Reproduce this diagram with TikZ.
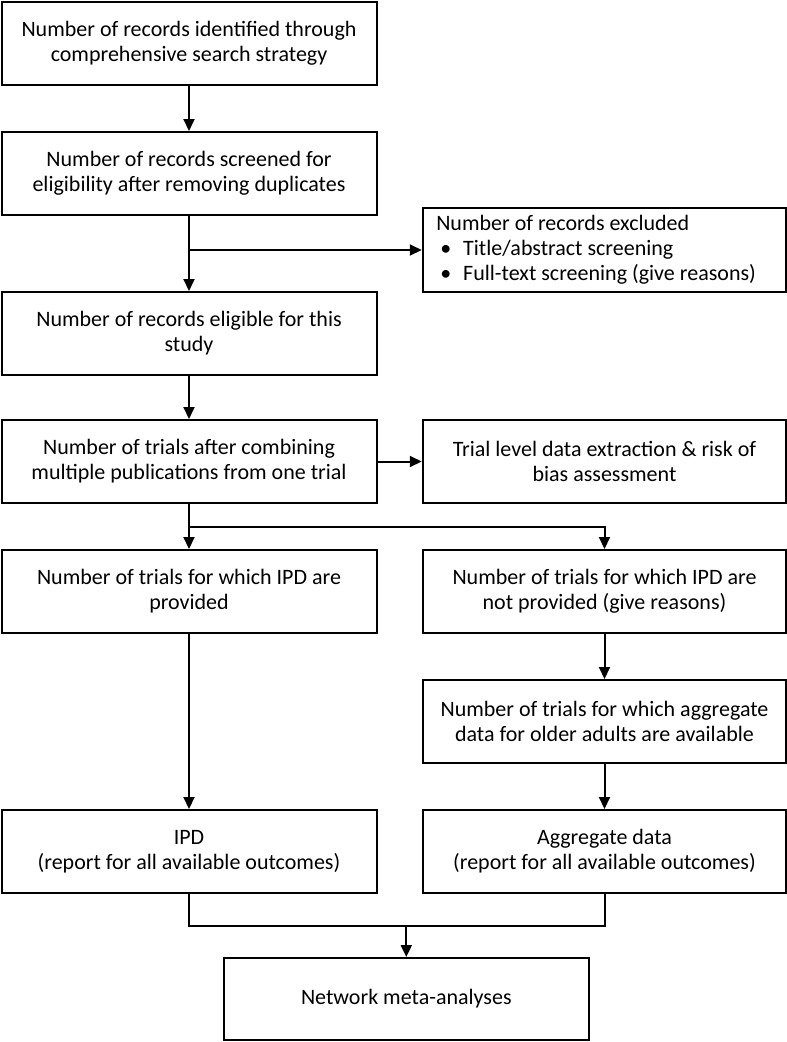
\documentclass[tikz,border=0pt]{standalone}
\usepackage{fontspec}
\setmainfont{Carlito}
\usetikzlibrary{arrows.meta}

\begin{document}
\begin{tikzpicture}[x=1pt, y=-1pt, font=\fontsize{22}{25}\selectfont,
    box/.style = {draw, line width=2pt, align=center, inner sep=0pt, minimum height=83pt},
    lbox/.style = {box, minimum width=375pt},
    rbox/.style = {box, minimum width=363.5pt},
    flow/.style = {line width=2pt, -{Triangle[length=12pt,width=11pt]}},
    link/.style = {line width=2pt}]

    \useasboundingbox (0,0) rectangle (787,1042);

    % left column
    \node[lbox] (ident) at (189,43) {Number of records identified through\\comprehensive search strategy};
    \node[lbox] (screen) at (189,173.5) {Number of records screened for\\eligibility after removing duplicates};
    \node[lbox] (elig) at (189,333.5) {Number of records eligible for this\\study};
    \node[lbox] (trials) at (189,461.5) {Number of trials after combining\\multiple publications from one trial};
    \node[lbox] (ipdyes) at (189,591.5) {Number of trials for which IPD are\\provided};
    \node[lbox] (ipd) at (189,851.5) {IPD\\(report for all available outcomes)};

    % right column
    \node[rbox, align=left, minimum height=84pt] (excl) at (604.5,250)
        {\makebox[336.5pt][l]{Number of records excluded}\\
         \makebox[336.5pt][l]{\hspace*{4pt}\makebox[23pt][l]{\textbullet}Title/abstract screening}\\
         \makebox[336.5pt][l]{\hspace*{4pt}\makebox[23pt][l]{\textbullet}Full-text screening (give reasons)}};
    \node[rbox] (tlevel) at (604.5,461.5) {Trial level data extraction \& risk of\\bias assessment};
    \node[rbox] (ipdno) at (604.5,591.5) {Number of trials for which IPD are\\not provided (give reasons)};
    \node[rbox] (aggav) at (604.5,721.5) {Number of trials for which aggregate\\data for older adults are available};
    \node[rbox] (agg) at (604.5,851.5) {Aggregate data\\(report for all available outcomes)};

    \node[box, minimum width=365pt, minimum height=82pt] (nma) at (406.3,999) {Network meta-analyses};

    % connectors
    \coordinate (split) at (189,527);
    \coordinate (merge) at (406.3,926);

    \draw[flow] (ident) -- (screen);
    \draw[flow] (screen) -- (elig);
    \draw[flow] (screen.south |- excl.west) -- (excl.west);
    \draw[flow] (elig) -- (trials);
    \draw[flow] (trials) -- (tlevel);
    \draw[flow] (trials) -- (ipdyes);
    \draw[flow] (split) -| (ipdno);
    \draw[flow] (ipdno) -- (aggav);
    \draw[flow] (aggav) -- (agg);
    \draw[flow] (ipdyes) -- (ipd);
    \draw[link] (ipd.south) |- (merge) -| (agg.south);
    \draw[flow] (merge) -- (nma);

\end{tikzpicture}
\end{document}
